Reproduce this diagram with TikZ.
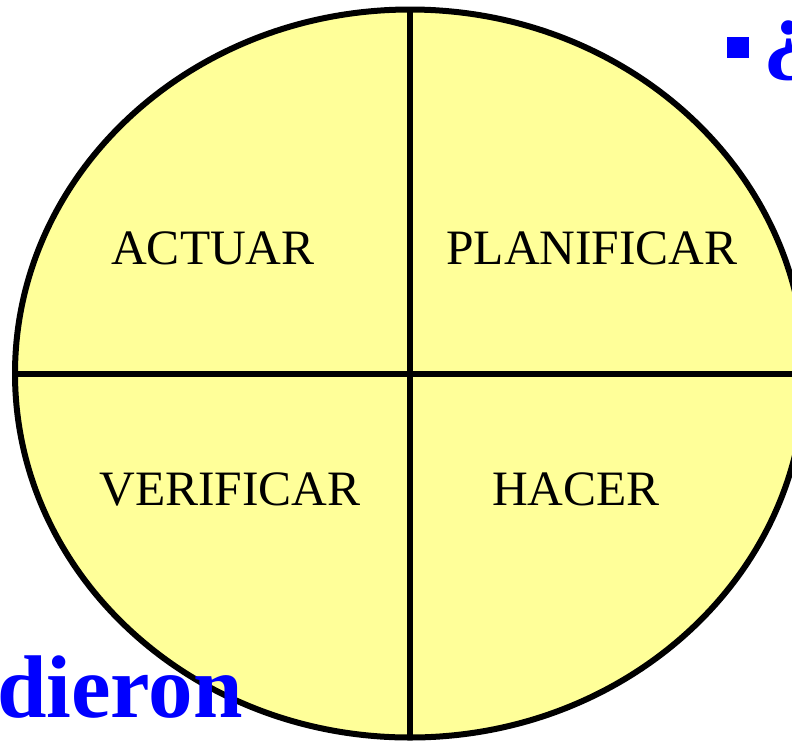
\documentclass[tikz,border=0pt]{standalone}
\usepackage{fontspec}
\setmainfont{Liberation Serif}
\definecolor{paleyellow}{RGB}{255,255,153}
\definecolor{titleblue}{RGB}{0,0,255}
\begin{document}
\begin{tikzpicture}[x=1pt,y=-1pt,
  quad/.style={font=\fontsize{49.5}{49.5}\selectfont, text=black, inner sep=0pt},
  bigblue/.style={font=\fontsize{89}{89}\selectfont\bfseries, text=titleblue, inner sep=0pt},
  rim/.style={draw=black, line width=6pt, fill=paleyellow},
  divider/.style={draw=black, line width=5.5pt}]
\useasboundingbox (0,0) rectangle (792,740);
\begin{scope}
\clip (0,0) rectangle (792,740);
\coordinate (c) at (410,373.5);
\draw[rim] (c) ellipse [x radius=395, y radius=364];
\coordinate (top) at (410,9.5);
\coordinate (bot) at (410,737.5);
\coordinate (lft) at (15,374);
\coordinate (rgt) at (805,374);
\draw[divider] (top) -- (bot);
\draw[divider] (lft) -- (rgt);
\node[quad, anchor=base] (actuar) at (213,264) {ACTUAR};
\node[quad, anchor=base] (planificar) at (592,264) {PLANIFICAR};
\node[quad, anchor=base] (verificar) at (230,505) {VERIFICAR};
\node[quad, anchor=base] (hacer) at (576,505) {HACER};
\fill[titleblue] (727,37) rectangle (749,58);
\node[bigblue, anchor=base west] (q) at (763,62) {¿};
\node[bigblue, anchor=base west] (dieron) at (-3,717) {dieron};
\end{scope}
\end{tikzpicture}
\end{document}
